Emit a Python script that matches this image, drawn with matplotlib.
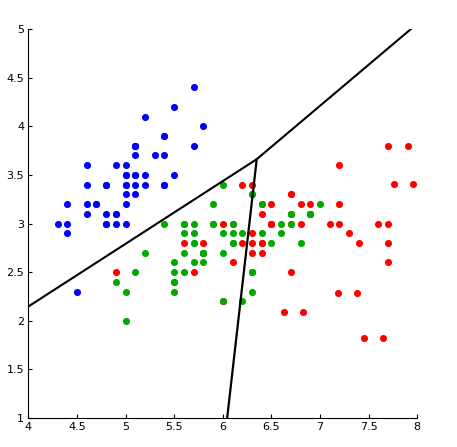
import matplotlib
matplotlib.use("Agg")
import matplotlib.pyplot as plt

# sepal length / sepal width (iris-like data)
setosa_x = [5.1, 4.9, 4.7, 4.6, 5.0, 5.4, 4.6, 5.0, 4.4, 4.9, 5.4, 4.8, 4.8, 4.3, 5.8,
            5.7, 5.4, 5.1, 5.7, 5.1, 5.4, 5.1, 4.6, 5.1, 4.8, 5.0, 5.0, 5.2, 5.2, 4.7,
            4.8, 5.4, 5.2, 5.5, 4.9, 5.0, 5.5, 4.9, 4.4, 5.1, 5.0, 4.5, 4.4, 5.0, 5.1,
            4.8, 5.1, 4.6, 5.3, 5.0]
setosa_y = [3.5, 3.0, 3.2, 3.1, 3.6, 3.9, 3.4, 3.4, 2.9, 3.1, 3.7, 3.4, 3.0, 3.0, 4.0,
            4.4, 3.9, 3.5, 3.8, 3.8, 3.4, 3.7, 3.6, 3.3, 3.4, 3.0, 3.4, 3.5, 3.4, 3.2,
            3.1, 3.4, 4.1, 4.2, 3.1, 3.2, 3.5, 3.6, 3.0, 3.4, 3.5, 2.3, 3.2, 3.5, 3.8,
            3.0, 3.8, 3.2, 3.7, 3.3]

versicolor_x = [7.0, 6.4, 6.9, 5.5, 6.5, 5.7, 6.3, 4.9, 6.6, 5.2, 5.0, 5.9, 6.0, 6.1, 5.6,
                6.7, 5.6, 5.8, 6.2, 5.6, 5.9, 6.1, 6.3, 6.1, 6.4, 6.6, 6.8, 6.7, 6.0, 5.7,
                5.5, 5.5, 5.8, 6.0, 5.4, 6.0, 6.7, 6.3, 5.6, 5.5, 5.5, 6.1, 5.8, 5.0, 5.6,
                5.7, 5.7, 6.2, 5.1, 5.7]
versicolor_y = [3.2, 3.2, 3.1, 2.3, 2.8, 2.8, 3.3, 2.4, 2.9, 2.7, 2.0, 3.0, 2.2, 2.9, 2.9,
                3.1, 3.0, 2.7, 2.2, 2.5, 3.2, 2.8, 2.5, 2.8, 2.9, 3.0, 2.8, 3.0, 2.9, 2.6,
                2.4, 2.4, 2.7, 2.7, 3.0, 3.4, 3.1, 2.3, 3.0, 2.5, 2.6, 3.0, 2.6, 2.3, 2.7,
                3.0, 2.9, 2.9, 2.5, 2.8]

virginica_x = [6.3, 5.8, 7.1, 6.3, 6.5, 7.6, 4.9, 7.3, 6.7, 7.2, 6.5, 6.4, 6.8, 5.7, 5.8,
               6.4, 6.5, 7.7, 7.7, 6.0, 6.9, 5.6, 7.7, 6.3, 6.7, 7.2, 6.2, 6.1, 6.4, 7.2,
               7.4, 7.9, 6.4, 6.3, 6.1, 7.7, 6.3, 6.4, 6.0, 6.9, 6.7, 6.9, 5.8, 6.8, 6.7,
               6.7, 6.3, 6.5, 6.2, 5.9,
               6.63, 6.83, 7.18, 7.38, 7.45, 7.65, 7.76, 7.96]
virginica_y = [3.3, 2.7, 3.0, 2.9, 3.0, 3.0, 2.5, 2.9, 2.5, 3.6, 3.2, 2.7, 3.0, 2.5, 2.8,
               3.2, 3.0, 3.8, 2.6, 2.2, 3.2, 2.8, 2.8, 2.7, 3.3, 3.2, 2.8, 3.0, 2.8, 3.0,
               2.8, 3.8, 2.8, 2.8, 2.6, 3.0, 3.4, 3.1, 3.0, 3.1, 3.1, 3.1, 2.7, 3.2, 3.3,
               3.0, 2.5, 3.0, 3.4, 3.0,
               2.09, 2.09, 2.29, 2.29, 1.82, 1.82, 3.41, 3.41]

# decision boundary vertices
upper_x = [4.0, 6.349, 8.0]
upper_y = [2.146, 3.661, 5.055]
lower_x = [6.349, 6.045]
lower_y = [3.661, 1.0]

ticks = [4, 4.5, 5, 5.5, 6, 6.5, 7, 7.5, 8]
yticks = [1, 1.5, 2, 2.5, 3, 3.5, 4, 4.5, 5]

fig = plt.figure(figsize=(4.57, 4.47), dpi=100)
ax = fig.add_axes([0.062, 0.065, 0.851, 0.870])

kw = dict(s=26, linewidths=0, zorder=3)
ax.scatter(setosa_x, setosa_y, color="#0000ff", **kw)
ax.scatter(virginica_x, virginica_y, color="#ff0000", **kw)
ax.scatter(versicolor_x, versicolor_y, color="#00aa00", **kw)

ax.plot(upper_x, upper_y, color="black", lw=1.5, zorder=4)
ax.plot(lower_x, lower_y, color="black", lw=1.6, zorder=4)

ax.set_xlim(4, 8)
ax.set_ylim(1, 5)
ax.set_xticks(ticks)
ax.set_xticklabels([f"{t:g}" for t in ticks])
ax.set_yticks(yticks)
ax.set_yticklabels([f"{t:g}" for t in yticks])
for s in ("top", "right"):
    ax.spines[s].set_visible(False)
for s in ("left", "bottom"):
    ax.spines[s].set_linewidth(0.8)
ax.tick_params(direction="in", length=3, width=0.8, labelsize=8, pad=3)

fig.savefig("out.png", dpi=100)
